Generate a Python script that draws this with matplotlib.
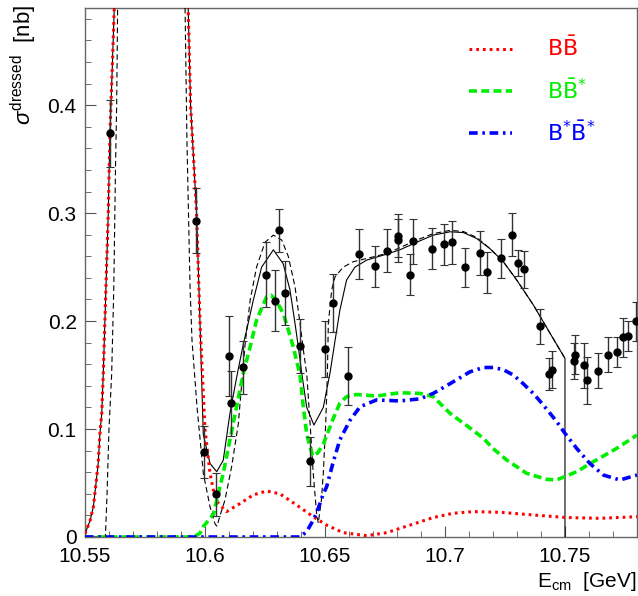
# Dressed cross section vs E_cm with BB, BB*, B*B* components
import matplotlib.pyplot as plt
from matplotlib.ticker import MultipleLocator
from matplotlib.font_manager import FontProperties

plt.rcParams['font.family'] = ['Liberation Sans', 'DejaVu Sans']
plt.rcParams['mathtext.fontset'] = 'custom'
plt.rcParams['mathtext.rm'] = 'Liberation Sans'
plt.rcParams['mathtext.it'] = 'Liberation Sans:italic'

######## Data points ########
pt_x = [10.5604, 10.5963, 10.5997, 10.6045, 10.6101, 10.6108, 10.6160, 10.6255, 10.6290,
        10.6310, 10.6333, 10.6396, 10.6437, 10.6500, 10.6535, 10.6597, 10.6643, 10.6707,
        10.6757, 10.6803, 10.6803, 10.6853, 10.6868, 10.6947, 10.6995, 10.7029, 10.7082,
        10.7147, 10.7174, 10.7232, 10.7279, 10.7305, 10.7328, 10.7395, 10.7433, 10.7445,
        10.7540, 10.7539, 10.7580, 10.7592, 10.7639, 10.7680, 10.7715, 10.7743, 10.7763,
        10.7798]
pt_y = [0.374, 0.293, 0.079, 0.0395, 0.168, 0.124, 0.157, 0.243, 0.219,
        0.284, 0.226, 0.177, 0.070, 0.174, 0.217, 0.149, 0.262, 0.251,
        0.265, 0.279, 0.275, 0.243, 0.274, 0.267, 0.271, 0.273, 0.250,
        0.263, 0.245, 0.258, 0.280, 0.254, 0.248, 0.195, 0.151, 0.155,
        0.169, 0.163, 0.159, 0.145, 0.154, 0.169, 0.171, 0.185, 0.186,
        0.200]
pt_err = [0.031, 0.030, 0.024, 0.020, 0.037, 0.030, 0.025, 0.030, 0.028,
          0.020, 0.030, 0.025, 0.023, 0.026, 0.027, 0.027, 0.023, 0.019,
          0.020, 0.020, 0.020, 0.019, 0.021, 0.019, 0.019, 0.020, 0.018,
          0.020, 0.019, 0.018, 0.020, 0.012, 0.017, 0.016, 0.015, 0.017,
          0.018, 0.017, 0.021, 0.022, 0.016, 0.016, 0.014, 0.018, 0.014,
          0.018]

######## Curves ########
bb_x = [10.5500, 10.5521, 10.5535, 10.5546, 10.5555, 10.5562, 10.5570, 10.5576, 10.5583,
        10.5590, 10.5597, 10.5604, 10.5613, 10.5622, 10.5650, 10.5800, 10.5900, 10.5930,
        10.5940, 10.5965, 10.5979, 10.6000, 10.6021, 10.6035, 10.6056, 10.6090, 10.6146,
        10.6201, 10.6257, 10.6312, 10.6382, 10.6451, 10.6507, 10.6576, 10.6674, 10.6757,
        10.6854, 10.6951, 10.7035, 10.7118, 10.7229, 10.7368, 10.7507, 10.7646, 10.7800]
bb_y = [0.003, 0.015, 0.028, 0.050, 0.068, 0.095, 0.115, 0.150, 0.200,
        0.250, 0.300, 0.374, 0.430, 0.490, 0.800, 2.000, 0.800, 0.490,
        0.400, 0.300, 0.200, 0.100, 0.059, 0.0435, 0.031, 0.0235, 0.031,
        0.039, 0.0426, 0.040, 0.0296, 0.0188, 0.011, 0.004, 0.0012, 0.004,
        0.011, 0.018, 0.022, 0.0235, 0.0229, 0.0204, 0.018, 0.0173, 0.0188]

bbs_x = [10.5500, 10.5951, 10.5979, 10.5993, 10.6035, 10.6076, 10.6104, 10.6132, 10.6160,
         10.6188, 10.6215, 10.6257, 10.6275, 10.6300, 10.6326, 10.6347, 10.6368, 10.6396,
         10.6410, 10.6424, 10.6449, 10.6470, 10.6493, 10.6535, 10.6562, 10.6590, 10.6630,
         10.6715, 10.6812, 10.6896, 10.6951, 10.7021, 10.7104, 10.7160, 10.7200, 10.7257,
         10.7340, 10.7424, 10.7465, 10.7549, 10.7618, 10.7715, 10.7800]
bbs_y = [0.0, 0.0, 0.0034, 0.0096, 0.021, 0.059, 0.090, 0.121, 0.152,
         0.176, 0.201, 0.2225, 0.224, 0.218, 0.207, 0.192, 0.176, 0.150,
         0.120, 0.095, 0.075, 0.078, 0.086, 0.110, 0.124, 0.130, 0.132,
         0.1306, 0.1336, 0.133, 0.130, 0.1145, 0.101, 0.0914, 0.082, 0.0713,
         0.059, 0.0534, 0.0528, 0.0605, 0.0697, 0.082, 0.0944]

bsbs_x = [10.5500, 10.6396, 10.6424, 10.6451, 10.6465, 10.6493, 10.6507, 10.6535, 10.6562,
          10.6604, 10.6646, 10.6715, 10.6812, 10.6896, 10.6951, 10.7021, 10.7104, 10.7160,
          10.7201, 10.7243, 10.7285, 10.7326, 10.7368, 10.7403, 10.7438, 10.7465, 10.7500,
          10.7549, 10.7604, 10.7660, 10.7729, 10.7800]
bsbs_y = [0.0, 0.0, 0.005, 0.0157, 0.022, 0.040, 0.0466, 0.070, 0.090,
          0.108, 0.1206, 0.127, 0.126, 0.128, 0.133, 0.142, 0.153, 0.157,
          0.157, 0.155, 0.150, 0.142, 0.133, 0.124, 0.1145, 0.107, 0.096,
          0.082, 0.068, 0.0574, 0.0528, 0.0574]

fit_x = [10.5500, 10.5521, 10.5535, 10.5546, 10.5555, 10.5562, 10.5570, 10.5576, 10.5583,
         10.5590, 10.5597, 10.5604, 10.5613, 10.5622, 10.5650, 10.5800, 10.5900, 10.5930,
         10.5940, 10.5965, 10.5979, 10.5993, 10.6021, 10.6049, 10.6076, 10.6104, 10.6132,
         10.6160, 10.6174, 10.6201, 10.6236, 10.6285, 10.6326, 10.6354, 10.6375, 10.6389,
         10.6403, 10.6424, 10.6454, 10.6493, 10.6521, 10.6542, 10.6562, 10.6590, 10.6625,
         10.6674, 10.6757, 10.6812, 10.6882, 10.6951, 10.7021, 10.7076, 10.7132, 10.7188,
         10.7243, 10.7299, 10.7368, 10.7438, 10.7500, 10.7500]
fit_y = [0.003, 0.015, 0.028, 0.050, 0.068, 0.095, 0.115, 0.150, 0.200,
         0.250, 0.300, 0.374, 0.430, 0.490, 0.800, 2.000, 0.800, 0.490,
         0.400, 0.300, 0.200, 0.095, 0.068, 0.0605, 0.071, 0.1145, 0.148,
         0.179, 0.192, 0.219, 0.250, 0.266, 0.253, 0.229, 0.198, 0.176,
         0.152, 0.120, 0.1037, 0.120, 0.152, 0.182, 0.210, 0.238, 0.250,
         0.2565, 0.262, 0.266, 0.273, 0.2796, 0.2827, 0.282, 0.2765, 0.267,
         0.255, 0.238, 0.215, 0.1886, 0.1654, 0.0]

fit2_x = [10.5500, 10.5585, 10.5592, 10.5600, 10.5611, 10.5620, 10.5627, 10.5632, 10.5636,
          10.5660, 10.5800, 10.5890, 10.5917, 10.5925, 10.5938, 10.5946, 10.5967, 10.5993,
          10.6021, 10.6042, 10.6050, 10.6063, 10.6083, 10.6111, 10.6139, 10.6153, 10.6167,
          10.6188, 10.6215, 10.6250, 10.6285, 10.6320, 10.6347, 10.6375, 10.6396, 10.6410,
          10.6424, 10.6438, 10.6451, 10.6465, 10.6472, 10.6485, 10.6493, 10.6503, 10.6510,
          10.6514, 10.6528, 10.6542, 10.6576, 10.6618, 10.6674, 10.6757, 10.6812, 10.6882,
          10.6951, 10.7021, 10.7076, 10.7132, 10.7188, 10.7243, 10.7299, 10.7368, 10.7438,
          10.7500]
fit2_y = [0.0, 0.0, 0.04, 0.10, 0.15, 0.23, 0.34, 0.40, 0.49,
          0.80, 2.00, 0.80, 0.49, 0.365, 0.23, 0.182, 0.12, 0.059,
          0.028, 0.012, 0.010, 0.020, 0.034, 0.065, 0.105, 0.142, 0.178,
          0.219, 0.250, 0.273, 0.2796, 0.275, 0.260, 0.232, 0.198, 0.173,
          0.151, 0.105, 0.059, 0.022, 0.013, 0.034, 0.059, 0.105, 0.151,
          0.198, 0.229, 0.241, 0.250, 0.255, 0.258, 0.2626, 0.268, 0.275,
          0.281, 0.284, 0.283, 0.2775, 0.267, 0.255, 0.238, 0.215, 0.1886,
          0.1654]

labels = [r'$\mathrm{B}\bar{\mathrm{B}}$', r'$\mathrm{B}\bar{\mathrm{B}}^{*}$',
          r'$\mathrm{B}^{*}\bar{\mathrm{B}}^{*}$']

############### MAIN ###############
fig = plt.figure(figsize=(6.38, 5.96), dpi=100)
ax = fig.add_axes([0.1332, 0.099, 0.8652, 0.8876])

ax.plot(fit_x, fit_y, color='k', linewidth=0.8, zorder=3)
ax.plot(fit2_x, fit2_y, color='k', linewidth=0.8, dashes=(5, 3), zorder=3)
l1, = ax.plot(bb_x, bb_y, color='red', linewidth=2.2, linestyle=(0, (0.9, 1.3)), zorder=4)
l2, = ax.plot(bbs_x, bbs_y, color='#00ee00', linewidth=2.6, linestyle=(0, (2.2, 1.2)), zorder=4)
l3, = ax.plot(bsbs_x, bsbs_y, color='blue', linewidth=2.6, linestyle=(0, (2.4, 1.3, 0.7, 1.3)), zorder=4)

ax.errorbar(pt_x, pt_y, yerr=pt_err, fmt='o', color='k', ecolor='#333333', markersize=5,
            elinewidth=1.0, capsize=3, capthick=0.8, zorder=5)

ax.set_xlim(10.55, 10.78)
ax.set_ylim(0, 0.49)
ax.set_xticks([10.55, 10.6, 10.65, 10.7, 10.75])
ax.set_xticklabels(['10.55', '10.6', '10.65', '10.7', '10.75'])
ax.set_yticks([0, 0.1, 0.2, 0.3, 0.4])
ax.set_yticklabels(['0', '0.1', '0.2', '0.3', '0.4'])
ax.xaxis.set_minor_locator(MultipleLocator(0.01))
ax.yaxis.set_minor_locator(MultipleLocator(0.02))
ax.tick_params(which='both', direction='in', labelsize=15, color='#555555')
ax.tick_params(which='major', length=8)
ax.tick_params(which='minor', length=4.5)
ax.tick_params(axis='x', pad=7)
ax.tick_params(axis='y', pad=6)
for s in ax.spines.values():
    s.set_color('#666666')
    s.set_linewidth(1.0)

legfont = FontProperties(family='DejaVu Sans', size=16, math_fontfamily='dejavusans')
leg = ax.legend([l1, l2, l3], labels, loc='upper left', bbox_to_anchor=(0.66, 0.985),
                frameon=False, prop=legfont, handlelength=1.9, handletextpad=1.6,
                labelspacing=0.8, labelcolor='linecolor')

fig.text(0.038, 0.992, r'$\sigma^{\mathrm{dressed}}$  [nb]', rotation=90, ha='center', va='top', fontsize=16)
fig.text(0.998, 0.005, r'$\mathrm{E_{cm}}$  [GeV]', ha='right', va='bottom', fontsize=15)

plt.savefig('out.png', dpi=100)
